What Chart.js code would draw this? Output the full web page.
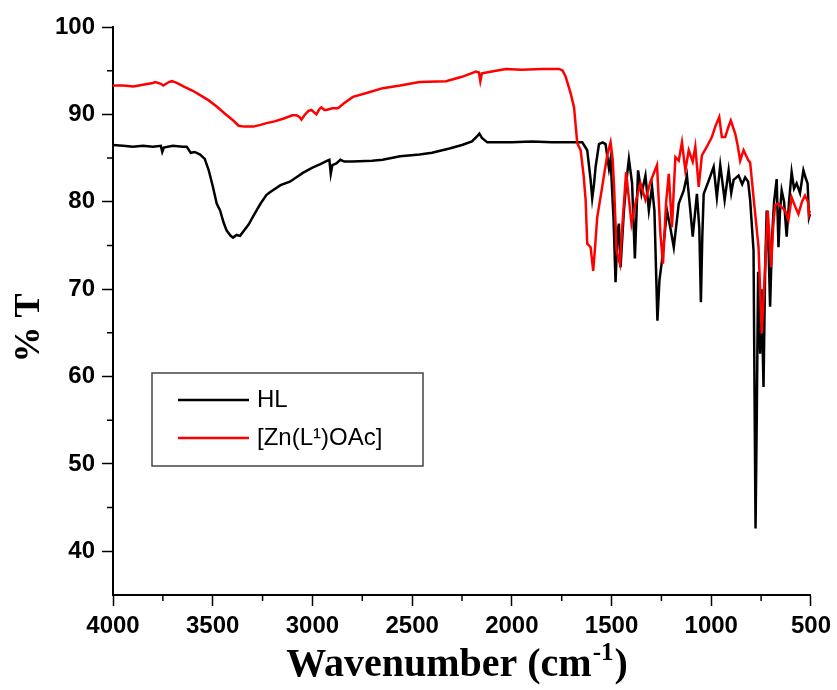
<!DOCTYPE html>
<html>
<head>
<meta charset="utf-8">
<script src="https://cdn.jsdelivr.net/npm/chart.js@4.4.1/dist/chart.umd.min.js"></script>
<style>
  body { margin: 0; background: #fff; }
</style>
</head>
<body>
<canvas id="irChart" width="837" height="690"></canvas>
<script>
// IR spectra
var seriesLabels = ["HL", "[Zn(L\u00B9)OAc]"];
var seriesColors = ["#000000", "#ff0000"];

var hlWave = [4000, 3950, 3900, 3850, 3800, 3760, 3753, 3745, 3700, 3650, 3630, 3610, 3590, 3563, 3540, 3520, 3500, 3480, 3463, 3445, 3430, 3410, 3398, 3380, 3363, 3340, 3320, 3298, 3260, 3230, 3213, 3160, 3113, 3080, 3048, 3000, 2960, 2925, 2915, 2908, 2900, 2880, 2860, 2840, 2800, 2700, 2648, 2560, 2463, 2400, 2313, 2250, 2200, 2170, 2163, 2150, 2123, 2080, 2000, 1900, 1800, 1700, 1647, 1622, 1605, 1597, 1588, 1580, 1563, 1545, 1530, 1513, 1505, 1490, 1480, 1470, 1463, 1455, 1438, 1425, 1413, 1397, 1383, 1367, 1350, 1330, 1313, 1297, 1285, 1270, 1260, 1247, 1222, 1205, 1188, 1163, 1138, 1122, 1105, 1093, 1072, 1060, 1052, 1045, 1038, 1013, 988, 972, 955, 933, 913, 900, 888, 863, 845, 830, 815, 805, 788, 782, 778, 772, 765, 755, 748, 738, 730, 722, 712, 705, 695, 685, 672, 663, 655, 647, 635, 622, 610, 597, 585, 572, 555, 538, 525, 517, 510, 505];
var hlT = [86.5, 86.4, 86.3, 86.4, 86.3, 86.4, 85.7, 86.2, 86.4, 86.3, 86.3, 85.6, 85.7, 85.4, 84.9, 83.6, 81.8, 79.8, 79.0, 77.6, 76.7, 76.1, 75.9, 76.2, 76.1, 76.8, 77.4, 78.3, 79.8, 80.8, 81.1, 81.9, 82.3, 82.8, 83.3, 83.9, 84.3, 84.7, 84.8, 83.2, 84.2, 84.4, 84.8, 84.6, 84.6, 84.7, 84.8, 85.2, 85.4, 85.6, 86.1, 86.5, 86.9, 87.6, 87.8, 87.3, 86.8, 86.8, 86.8, 86.9, 86.8, 86.8, 86.8, 85.9, 82.5, 80.4, 82.0, 84.0, 86.6, 86.8, 86.6, 83.8, 84.9, 78.0, 70.8, 76.5, 77.5, 72.5, 79.0, 82.5, 84.9, 82.1, 73.5, 83.6, 80.9, 83.0, 79.0, 81.7, 79.0, 66.4, 71.0, 73.3, 79.0, 77.0, 74.8, 79.8, 81.3, 83.0, 79.0, 76.0, 80.9, 77.0, 68.5, 76.0, 80.9, 82.4, 84.0, 80.5, 84.2, 80.2, 83.6, 81.0, 82.5, 83.0, 82.0, 82.8, 82.3, 80.2, 74.4, 55.0, 42.6, 55.0, 72.0, 62.6, 70.0, 58.8, 72.0, 79.0, 74.0, 68.0, 76.0, 80.0, 82.6, 74.8, 79.0, 81.3, 80.0, 76.0, 80.0, 83.4, 81.5, 82.1, 81.0, 83.6, 82.6, 82.1, 78.2, 78.6];

var znWave = [4000, 3950, 3898, 3850, 3800, 3788, 3760, 3748, 3720, 3705, 3680, 3647, 3600, 3563, 3520, 3480, 3440, 3397, 3370, 3340, 3297, 3260, 3230, 3190, 3147, 3100, 3080, 3065, 3055, 3040, 3020, 3005, 2990, 2980, 2965, 2955, 2940, 2930, 2900, 2872, 2840, 2797, 2720, 2647, 2560, 2463, 2330, 2250, 2180, 2165, 2158, 2150, 2100, 2030, 1950, 1850, 1763, 1745, 1730, 1705, 1688, 1672, 1655, 1640, 1630, 1622, 1605, 1592, 1582, 1572, 1547, 1522, 1505, 1495, 1488, 1475, 1458, 1443, 1427, 1400, 1377, 1355, 1330, 1305, 1272, 1255, 1242, 1227, 1213, 1197, 1180, 1163, 1147, 1130, 1113, 1093, 1080, 1063, 1047, 1022, 997, 980, 960, 947, 930, 915, 902, 880, 868, 855, 838, 813, 805, 788, 763, 747, 740, 730, 717, 708, 700, 690, 680, 665, 647, 630, 613, 597, 580, 563, 545, 530, 515, 510, 505];
var znT = [93.3, 93.3, 93.2, 93.4, 93.6, 93.7, 93.5, 93.3, 93.7, 93.8, 93.6, 93.2, 92.7, 92.2, 91.6, 90.9, 90.1, 89.3, 88.7, 88.6, 88.6, 88.8, 89.0, 89.2, 89.5, 89.9, 89.9, 89.7, 89.4, 89.9, 90.4, 90.5, 90.2, 90.0, 90.6, 90.8, 90.5, 90.5, 90.7, 90.7, 91.3, 92.0, 92.5, 93.0, 93.3, 93.7, 93.8, 94.3, 94.9, 94.8, 93.8, 94.7, 94.9, 95.2, 95.1, 95.2, 95.2, 95.0, 94.3, 92.4, 90.8, 86.7, 85.9, 83.0, 80.2, 75.2, 74.8, 72.1, 75.0, 78.2, 81.7, 85.3, 86.8, 85.0, 82.1, 74.4, 72.9, 78.2, 83.4, 77.5, 80.2, 82.1, 80.2, 82.3, 84.2, 76.3, 72.9, 79.8, 83.2, 77.1, 85.1, 84.7, 86.8, 83.6, 85.9, 84.6, 86.3, 81.7, 85.3, 86.3, 87.4, 88.6, 89.7, 87.4, 87.4, 88.5, 89.3, 87.8, 86.5, 84.7, 85.9, 84.7, 84.5, 80.5, 74.8, 64.9, 68.0, 72.5, 79.0, 76.0, 72.5, 77.0, 79.6, 79.8, 79.4, 79.0, 77.9, 80.5, 79.5, 78.6, 80.0, 80.7, 80.0, 78.6, 79.0];

var xMinorTicks = [3750, 3250, 2750, 2250, 1750, 1250, 750];
var yMinorTicks = [95, 85, 75, 65, 55, 45];

function toPoints(xs, ys) {
  return xs.map(function (x, i) {
    return { x: x, y: ys[i] };
  });
}

// minor ticks, drawn through the scales
const minorTicks = {
  id: "minorTicks",
  afterDraw: function (chart) {
    var ctx = chart.ctx;
    var xs = chart.scales.x;
    var ys = chart.scales.y;
    ctx.save();
    ctx.strokeStyle = "#000";
    ctx.lineWidth = 1.5;
    ctx.beginPath();
    xMinorTicks.forEach(function (v) {
      var px = xs.getPixelForValue(v);
      ctx.moveTo(px, xs.top);
      ctx.lineTo(px, xs.top + 6);
    });
    yMinorTicks.forEach(function (v) {
      var py = ys.getPixelForValue(v);
      ctx.moveTo(ys.right, py);
      ctx.lineTo(ys.right - 6, py);
    });
    ctx.stroke();
    ctx.restore();
  }
};

// axis titles, x one with a real superscript
const axisTitles = {
  id: "axisTitles",
  afterDraw: function (chart) {
    var ctx = chart.ctx;
    var area = chart.chartArea;
    var big = "bold 40px 'Liberation Serif', 'Times New Roman', serif";
    var small = "bold 25px 'Liberation Serif', 'Times New Roman', serif";
    var part1 = "Wavenumber (cm";
    var sup = "-1";
    var part2 = ")";
    ctx.save();
    ctx.fillStyle = "#000";
    ctx.textBaseline = "alphabetic";
    ctx.font = big;
    var w1 = ctx.measureText(part1).width;
    var w3 = ctx.measureText(part2).width;
    ctx.font = small;
    var w2 = ctx.measureText(sup).width;
    var x0 = (area.left + area.right) / 2 - (w1 + w2 + w3) / 2 - 6;
    var base = 676;
    ctx.font = big;
    ctx.fillText(part1, x0, base);
    ctx.font = small;
    ctx.fillText(sup, x0 + w1 + 1, base - 16);
    ctx.font = big;
    ctx.fillText(part2, x0 + w1 + w2 + 2, base);

    // y title
    ctx.translate(30, 328);
    ctx.rotate(-Math.PI / 2);
    ctx.font = "bold 36px 'Liberation Serif', 'Times New Roman', serif";
    ctx.textAlign = "center";
    ctx.textBaseline = "middle";
    ctx.fillText("% T", 0, 0);
    ctx.restore();
  }
};

// boxed legend inside the plot
const boxLegend = {
  id: "boxLegend",
  afterDraw: function (chart) {
    var ctx = chart.ctx;
    ctx.save();
    ctx.strokeStyle = "#444";
    ctx.lineWidth = 1.5;
    ctx.strokeRect(152, 373, 271, 93);
    ctx.font = "24px 'Liberation Sans', Arial, sans-serif";
    ctx.textBaseline = "middle";
    ctx.fillStyle = "#000";
    chart.data.datasets.forEach(function (ds, i) {
      var y = 400 + i * 38;
      ctx.strokeStyle = ds.borderColor;
      ctx.lineWidth = 2.5;
      ctx.beginPath();
      ctx.moveTo(178, y);
      ctx.lineTo(249, y);
      ctx.stroke();
      ctx.fillText(ds.label, 257, y);
    });
    ctx.restore();
  }
};

const ctxIr = document.getElementById("irChart").getContext("2d");

const irChart = new Chart(ctxIr, {
  type: "line",
  data: {
    datasets: [
      {
        label: seriesLabels[0],
        data: toPoints(hlWave, hlT),
        borderColor: seriesColors[0],
        borderWidth: 2.5,
        pointRadius: 0,
        tension: 0,
        order: 1
      },
      {
        label: seriesLabels[1],
        data: toPoints(znWave, znT),
        borderColor: seriesColors[1],
        borderWidth: 2.5,
        pointRadius: 0,
        tension: 0,
        order: 0
      }
    ]
  },
  options: {
    responsive: false,
    animation: false,
    layout: {
      padding: { left: 0, right: 26, top: 27, bottom: 0 }
    },
    plugins: {
      legend: { display: false },
      tooltip: { enabled: false }
    },
    scales: {
      x: {
        type: "linear",
        reverse: true,
        min: 500,
        max: 4000,
        afterFit: function (scale) {
          scale.height = 95;
        },
        ticks: {
          stepSize: 500,
          color: "#000",
          padding: 6,
          maxRotation: 0,
          callback: function (value) {
            return String(value);
          },
          font: { family: "'Liberation Sans', Arial", weight: "bold", size: 24 }
        },
        grid: {
          drawOnChartArea: false,
          drawTicks: true,
          tickLength: 11,
          tickWidth: 1.5,
          color: "#000"
        },
        border: { display: true, color: "#000", width: 2 }
      },
      y: {
        min: 35,
        max: 100,
        afterFit: function (scale) {
          scale.width = 113;
        },
        ticks: {
          stepSize: 10,
          includeBounds: false,
          color: "#000",
          padding: 7,
          callback: function (value) {
            return String(value);
          },
          font: { family: "'Liberation Sans', Arial", weight: "bold", size: 24 }
        },
        grid: {
          drawOnChartArea: false,
          drawTicks: true,
          tickLength: 11,
          tickWidth: 1.5,
          color: "#000"
        },
        border: { display: true, color: "#000", width: 2 }
      }
    }
  },
  plugins: [minorTicks, axisTitles, boxLegend]
});
</script>
</body>
</html>
